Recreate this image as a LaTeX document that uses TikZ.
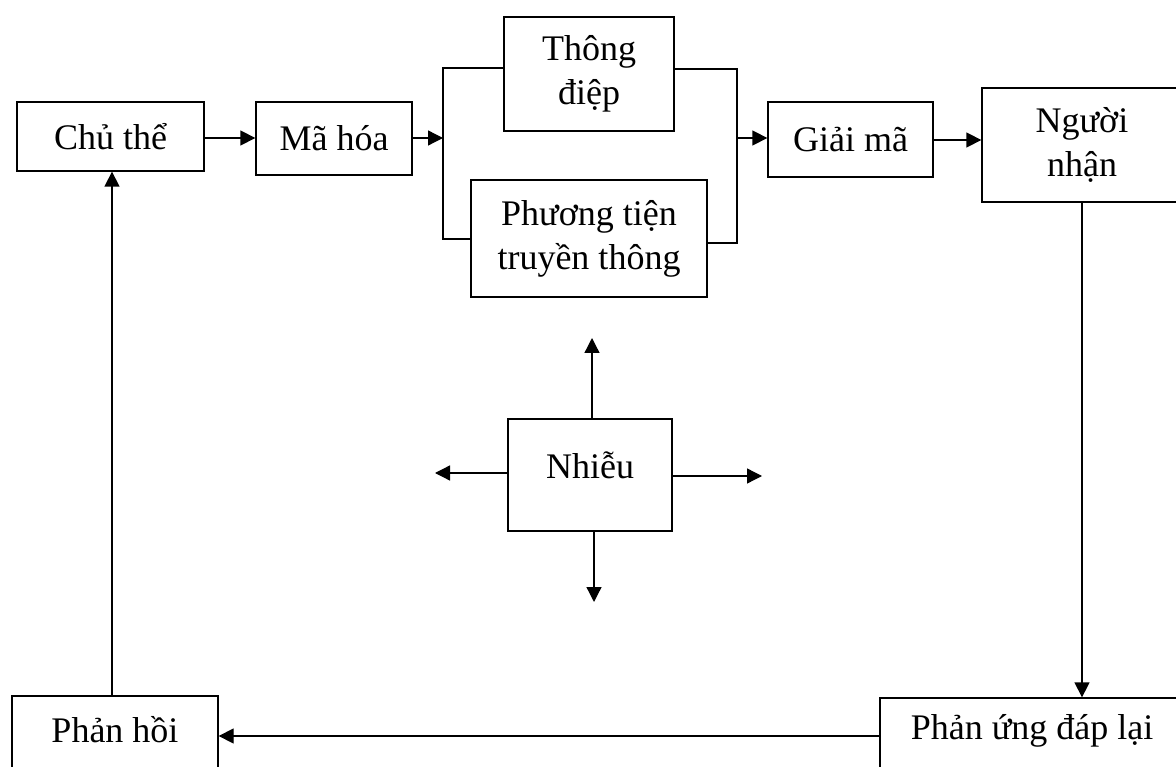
\documentclass[tikz,border=0pt]{standalone}
\usepackage{fontspec}
\setmainfont{Liberation Serif}
\usetikzlibrary{arrows.meta}
\begin{document}
\begin{tikzpicture}[x=1pt,y=-1pt,
  box/.style={draw,line width=1.3pt,rectangle,inner sep=0pt,align=center,
    font=\fontsize{36}{44}\selectfont},
  conn/.style={line width=1.3pt},
  arr/.style={line width=1.3pt,-{Triangle[length=15pt,width=15pt]}}]
\useasboundingbox (0,0) rectangle (1176,767);
\clip (0,0) rectangle (1176,767);
\node[box,minimum width=187pt,minimum height=69pt] (chu) at (110.5,136.5) {Chủ thể};
\node[box,minimum width=156pt,minimum height=73pt] (ma) at (334,138.5) {Mã hóa};
\node[box,minimum width=170pt,minimum height=114pt] (td) at (589,74) {Thông\\điệp};
\node[box,minimum width=236pt,minimum height=117pt] (pt) at (589,238.5) {Phương tiện\\truyền thông};
\node[box,minimum width=165pt,minimum height=75pt] (gm) at (850.5,139.5) {Giải mã};
\node[box,minimum width=200pt,minimum height=114pt] (nn) at (1082,145) {Người\\nhận};
\node[box,minimum width=164pt,minimum height=112pt,text depth=20pt] (nh) at (590,475) {Nhiễu};
\node[box,minimum width=206pt,minimum height=79pt,text depth=12pt] (ph) at (115,735.5) {Phản hồi};
\node[box,minimum width=304pt,minimum height=77pt,text depth=20pt] (pu) at (1032,736.5) {Phản ứng đáp lại};
\coordinate (bl) at (443,138);
\coordinate (br) at (737,138);
\coordinate (nu) at (592,338);
\coordinate (nl) at (435,473);
\coordinate (nr) at (762,476);
\coordinate (nd) at (594,602);
% top row
\draw[arr] (chu.east |- bl) -- (ma.west |- bl);
\draw[arr] (ma.east |- bl) -- (bl);
\draw[conn] (td.west |- 0,68) -- (443,68) -- (443,239) -- (pt.west |- 0,239);
\draw[conn] (td.east |- 0,69) -- (737,69) -- (737,243) -- (pt.east |- 0,243);
\draw[arr] (br) -- (gm.west |- br);
\draw[arr] (gm.east |- 0,140) -- (nn.west |- 0,140);
% loop
\draw[arr] (nn.south) -- (pu.north -| nn.south);
\draw[arr] (pu.west |- 0,736) -- (ph.east |- 0,736);
\draw[arr] (ph.north -| 112,0) -- (chu.south -| 112,0);
% noise
\draw[arr] (nh.north -| nu) -- (nu);
\draw[arr] (nh.west |- nl) -- (nl);
\draw[arr] (nh.east |- nr) -- (nr);
\draw[arr] (nh.south -| nd) -- (nd);
\end{tikzpicture}
\end{document}
